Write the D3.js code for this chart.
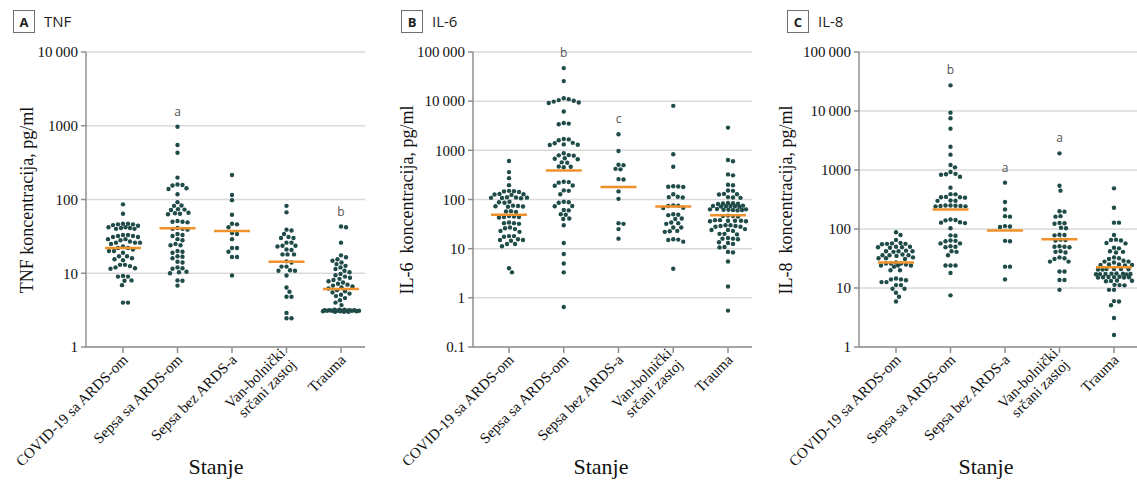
<!DOCTYPE html>
<html>
<head>
<meta charset="utf-8">
<script src="https://cdn.jsdelivr.net/npm/d3@7/dist/d3.min.js"></script>
<style>
  body { margin: 0; background: #fff; }
  svg { display: block; }
  .serif { font-family: "Liberation Serif", "Times New Roman", serif; fill: #111; }
  .sans { font-family: "Open Sans", "Liberation Sans", sans-serif; }
</style>
</head>
<body>
<svg id="chart" width="1137" height="480"></svg>
<script>
// groups on the x axis (the last-but-one label breaks into two lines)
const categories = ["COVID-19 sa ARDS-om", "Sepsa sa ARDS-om", "Sepsa bez ARDS-a", "Van-bolnički\nsrčani zastoj", "Trauma"];

// TNF, pg/ml
const tnfValues = [
  [86, 64, 47, 46, 45, 46, 44, 47, 41, 42, 40, 41, 40, 42, 32, 33, 31, 32, 33, 31, 29, 29, 28, 26, 26, 25, 26, 27,
   22, 22, 23, 20, 20, 19, 21, 17, 17, 15.5, 15, 16, 13, 13, 12.5, 11.7, 11.5, 12, 9, 9, 9.2, 7.9, 8, 6.9, 4, 4],
  [970, 548, 431, 198, 157, 155, 160, 139, 142, 118, 92, 82, 83, 73, 72, 74, 64, 65, 63, 66, 50, 51, 49, 50,
   40, 41, 40, 39, 33, 34, 32, 29, 28, 24, 24, 25, 19.6, 20, 19, 16.7, 17, 16, 14.3, 14, 11.7, 12, 11.5,
   10.3, 10.5, 10, 7.9, 8, 6.8],
  [215, 115, 98, 62, 47, 46, 42, 34, 35, 29, 22, 22, 19.6, 16.6, 16.6, 9.3],
  [82, 67, 39, 38, 34, 30, 30, 31, 26, 26, 23.6, 23.6, 23, 20.7, 21, 18, 18, 18, 14, 14.5, 12.3, 12.3,
   10.8, 10.8, 11, 9.3, 6.4, 5.6, 4.8, 4.8, 2.9, 2.45, 2.45],
  [42, 43, 26, 17.5, 16.5, 15.5, 14.8, 14, 13.3, 12.6, 12, 11.4, 10.8, 10.3, 9.8, 9.4, 9, 8.7, 8.4, 8.1, 7.8,
   7.5, 7.2, 7, 6.8, 6.6, 6.4, 6.2, 5.9, 5.7, 5.5, 5.3, 5.1, 4.9, 4.6, 4.3, 4.0, 3.7,
   3.0, 3.05, 3.1, 3.15, 3.2, 3.1, 3.05, 3.15, 3.1, 3.2, 3.0, 3.1, 3.15, 3.05, 3.1, 3.2, 3.1, 3.0, 3.15, 3.1]
];
const tnfMedians = [22, 40.6, 37.4, 14.3, 6.1];
const tnfMarks = ["", "a", "", "", "b"];

// IL-6, pg/ml (panel B)
const il6Values = [
  [605, 361, 272, 196, 146, 150, 142, 148, 126, 128, 124, 130, 108, 110, 106, 109, 107, 111, 88, 90, 86,
   73, 75, 71, 74, 72, 57, 58, 56, 44, 45, 43, 46, 44, 33, 34, 32, 33, 26, 27, 25, 23, 22, 18, 18, 17.5,
   15, 15.5, 14.5, 15, 12.4, 12.4, 11.2, 4.0, 3.3],
  [47000, 25600, 11500, 10500, 9800, 11000, 10200, 9400, 9200, 6150, 3500, 3400, 3600, 1670, 1700, 1600,
   1390, 1420, 1320, 1300, 1280, 870, 790, 780, 800, 676, 690, 660, 560, 570, 465, 470, 455, 226, 230, 220,
   193, 190, 153, 150, 128, 88, 90, 86, 73, 74, 60, 61, 49, 50, 40, 41, 30, 13, 7.8, 5.0, 3.3, 0.65],
  [2120, 970, 510, 500, 410, 420, 256, 260, 146, 103, 32, 33, 25, 16],
  [8030, 830, 465, 184, 180, 186, 182, 128, 112, 110, 114, 75, 76, 74, 68, 67, 49, 50, 48, 40, 41, 33, 34, 32,
   27, 27, 22.6, 23, 22, 15.3, 15.5, 15, 13.9, 3.9],
  [2900, 635, 600, 324, 310, 199, 195, 150, 152, 128, 126, 130, 110, 112, 108, 83, 84, 82, 85, 81,
   73, 74, 72, 75, 71, 73, 74, 62, 63, 61, 64, 60, 62, 63, 61, 46, 47, 45, 46, 37, 38, 36, 37, 38, 36, 37,
   29, 30, 28, 29, 30, 28, 24, 24, 25, 23, 20, 20, 19.5, 16, 16.5, 15.5, 16, 13, 13.5, 12.5, 10.6, 10.8,
   8.6, 8.4, 5.5, 1.7, 0.55]
];
const il6Medians = [49, 390, 179, 72, 48];
const il6Marks = ["", "b", "c", "", ""];

// IL-8, pg/ml (panel C)
const il8Values = [
  [88, 79, 65, 56, 57, 55, 56, 58, 49, 50, 48, 49, 50, 42, 43, 41, 42, 42, 36, 37, 35, 36, 36, 32, 33, 31, 32,
   26, 27, 26, 25, 26, 24, 24, 23, 24, 20, 20, 14, 14.5, 13.5, 14, 12.6, 12.6, 11.2, 11.2, 9.7, 9.7, 8.3, 7.1, 5.9],
  [27200, 9370, 7520, 5020, 2480, 1820, 1215, 1110, 925, 845, 860, 830, 770, 502, 387, 390, 345, 350, 340, 345,
   302, 300, 305, 245, 250, 240, 245, 248, 242, 250, 142, 145, 140, 128, 130, 126, 103, 77, 78, 63, 64, 62,
   57, 57, 50, 51, 49, 41, 42, 36, 24, 24, 24, 18, 7.5],
  [610, 287, 215, 162, 165, 110, 112, 108, 63, 62, 23, 23, 14],
  [1915, 542, 447, 197, 200, 162, 165, 125, 127, 123, 103, 105, 79, 80, 78, 65, 66, 64, 50, 51, 49, 50,
   41, 42, 40, 32, 33, 31, 28, 28, 19, 19, 13.7, 13.7, 9.3],
  [489, 229, 128, 128, 79, 65, 66, 64, 57, 58, 47, 48, 41, 42, 40, 32, 33, 31, 28, 29, 28, 27,
   24.5, 25, 24, 24.5, 25, 20.8, 21, 20.5, 21, 20.6, 20.9, 17.3, 17.5, 17, 17.4, 17.2, 17.6, 17.1, 17.3,
   15.2, 15.4, 15, 15.3, 15.1, 15.2, 15.5, 13.2, 13.4, 13, 13.3, 11.2, 11.3, 11.1, 9.3, 9.3, 5.9, 6.0, 5.1, 3.1, 1.6]
];
const il8Medians = [27, 215, 94, 67, 22.4];
const il8Marks = ["", "b", "a", "a", ""];

const DOT = "#1f4b48";
const MEDIAN = "#f0922b";

class BeeswarmPanel {
  constructor(svg, opt) {
    this.svg = svg;
    this.opt = opt;
    this.g = svg.append("g");
    this.y = d3.scaleLog().domain(opt.domain).range([347, 52]);
    this.x = d3.scalePoint().domain(categories).range(opt.catRange);
  }

  // simple dodge: slide each dot sideways until it no longer touches the ones already placed
  dodge(ys, minDist, maxW) {
    const placed = [];
    return ys.map((y) => {
      let pick = 0, bestGap = -1;
      for (let k = 0; k <= maxW * 4; k++) {
        const off = (k % 2 ? 1 : -1) * Math.ceil(k / 2) * 0.5;
        let gap = Infinity;
        for (const p of placed) {
          gap = Math.min(gap, Math.hypot(p[0] - off, p[1] - y));
        }
        if (gap >= minDist) { pick = off; bestGap = gap; break; }
        if (gap > bestGap) { bestGap = gap; pick = off; }
      }
      placed.push([pick, y]);
      return pick;
    });
  }

  drawAxes() {
    const o = this.opt, g = this.g, y = this.y;
    // thin space only from 10 000 up, like the original
    const fmt = (v) => v >= 10000 ? d3.format(",")(v).replace(/,/g, "\u2009") : String(v);

    g.selectAll(".grid").data(o.ticks).enter().append("line")
      .attr("x1", o.axisX).attr("x2", o.right)
      .attr("y1", (d) => y(d)).attr("y2", (d) => y(d))
      .attr("stroke", "#dadada").attr("stroke-width", 1.5);

    g.append("line").attr("x1", o.axisX).attr("x2", o.axisX).attr("y1", 52).attr("y2", 347)
      .attr("stroke", "#8f8f8f").attr("stroke-width", 1.5);
    g.append("line").attr("x1", o.axisX).attr("x2", o.right).attr("y1", 347).attr("y2", 347)
      .attr("stroke", "#8f8f8f").attr("stroke-width", 1.5);

    g.selectAll(".ytick").data(o.ticks).enter().append("line")
      .attr("x1", o.axisX - 5).attr("x2", o.axisX)
      .attr("y1", (d) => y(d)).attr("y2", (d) => y(d))
      .attr("stroke", "#8f8f8f").attr("stroke-width", 1.5);
    g.selectAll(".ylab").data(o.ticks).enter().append("text")
      .attr("class", "serif")
      .attr("x", o.axisX - 8).attr("y", (d) => y(d)).attr("dy", "0.35em")
      .attr("text-anchor", "end").style("font-size", "15px")
      .text(fmt);

    g.selectAll(".xtick").data(categories).enter().append("line")
      .attr("x1", (d) => this.x(d)).attr("x2", (d) => this.x(d))
      .attr("y1", 347).attr("y2", 353)
      .attr("stroke", "#8f8f8f").attr("stroke-width", 1.5);

    const lab = g.selectAll(".xlab").data(categories).enter().append("text")
      .attr("class", "serif")
      .attr("transform", (d) => "translate(" + (this.x(d) + 2) + ",357) rotate(-45)")
      .attr("text-anchor", "end").style("font-size", "15px");
    lab.each(function (d) {
      const lines = d.split("\n");
      lines.forEach((t, i) => {
        d3.select(this).append("tspan").attr("x", 0)
          .attr("dy", i === 0 ? (lines.length > 1 ? "-0.25em" : "0.35em") : "1.05em")
          .text(t);
      });
    });

    g.append("text").attr("class", "serif")
      .attr("x", o.stanjeX).attr("y", 474).attr("text-anchor", "middle")
      .style("font-size", "22px").text("Stanje");

    g.append("text").attr("class", "serif")
      .attr("transform", "translate(" + o.labelX + ",200) rotate(-90)")
      .attr("text-anchor", "middle").style("font-size", "18px").style("white-space", "pre")
      .text(o.yLabel);

    // panel letter in a box + cytokine name
    g.append("rect").attr("x", o.boxX + 0.5).attr("y", 10.5).attr("width", 21).attr("height", 22)
      .attr("fill", "none").attr("stroke", "#6f6f6f").attr("stroke-width", 1);
    g.append("text").attr("class", "sans").attr("x", o.boxX + 11).attr("y", 27)
      .attr("text-anchor", "middle").style("font-size", "13px").style("font-weight", "bold")
      .attr("fill", "#222").text(o.letter);
    g.append("text").attr("class", "sans").attr("x", o.boxX + 31).attr("y", 27)
      .style("font-size", "15px").attr("fill", "#222").text(o.title);
  }

  drawDots() {
    const o = this.opt, y = this.y;
    o.values.forEach((vals, i) => {
      const cx = this.x(categories[i]);
      const sorted = vals.slice().sort((a, b) => b - a);
      const ys = sorted.map((v) => y(v));
      const offs = this.dodge(ys, 5, 18);
      this.g.append("g").selectAll("circle").data(sorted).enter().append("circle")
        .attr("cx", (d, j) => cx + offs[j])
        .attr("cy", (d, j) => ys[j])
        .attr("r", 2.2)
        .attr("fill", DOT);

      this.g.append("line")
        .attr("x1", cx - 18).attr("x2", cx + 18)
        .attr("y1", y(o.medians[i])).attr("y2", y(o.medians[i]))
        .attr("stroke", MEDIAN).attr("stroke-width", 2.5);

      if (o.marks[i]) {
        this.g.append("text").attr("class", "sans")
          .attr("x", cx).attr("y", y(d3.max(vals)) - 11)
          .attr("text-anchor", "middle").style("font-size", "12px").attr("fill", "#555")
          .text(o.marks[i]);
      }
    });
  }

  plot() {
    this.drawAxes();
    this.drawDots();
  }
}

const svg = d3.select("#chart");

new BeeswarmPanel(svg, {
  values: tnfValues, medians: tnfMedians, marks: tnfMarks,
  domain: [1, 10000], ticks: [1, 10, 100, 1000, 10000],
  axisX: 86, right: 365, catRange: [123, 341],
  labelX: 33, stanjeX: 216, boxX: 13, letter: "A", title: "TNF",
  yLabel: "TNF koncentracija, pg/ml"
}).plot();

new BeeswarmPanel(svg, {
  values: il6Values, medians: il6Medians, marks: il6Marks,
  domain: [0.1, 100000], ticks: [0.1, 1, 10, 100, 1000, 10000, 100000],
  axisX: 473, right: 752, catRange: [509, 728],
  labelX: 413, stanjeX: 601, boxX: 401, letter: "B", title: "IL-6",
  yLabel: "IL-6  koncentracija, pg/ml"
}).plot();

new BeeswarmPanel(svg, {
  values: il8Values, medians: il8Medians, marks: il8Marks,
  domain: [1, 100000], ticks: [1, 10, 100, 1000, 10000, 100000],
  axisX: 859, right: 1137, catRange: [896, 1114],
  labelX: 792, stanjeX: 986, boxX: 787, letter: "C", title: "IL-8",
  yLabel: "IL-8  koncentracija, pg/ml"
}).plot();
</script>
</body>
</html>
